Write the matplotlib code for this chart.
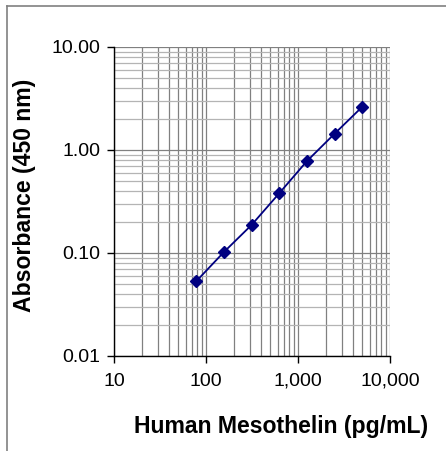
import numpy as np
import matplotlib.pyplot as plt
from matplotlib.lines import Line2D
from matplotlib.ticker import FixedLocator, FixedFormatter, LogLocator, NullFormatter

# Standard curve values
concentration = [78.1, 156.3, 312.5, 625, 1250, 2500, 5000]
absorbance = [0.053, 0.102, 0.187, 0.380, 0.780, 1.44, 2.63]

x_ticks = [10, 100, 1000, 10000]
x_tick_labels = ['10', '100', '1,000', '10,000']
y_ticks = [0.01, 0.1, 1, 10]
y_tick_labels = ['0.01', '0.10', '1.00', '10.00']

plt.rcParams['font.family'] = ['Liberation Sans', 'DejaVu Sans']

W, H = 446, 451
fig = plt.figure(figsize=(W / 100, H / 100), dpi=100)
ax = fig.add_axes([114 / W, 1 - 356 / H, (390 - 114) / W, (356 - 47) / H])

ax.plot(concentration, absorbance, color='#000080', linewidth=1.3,
        marker='D', markersize=6, markerfacecolor='#000080',
        markeredgecolor='#000080', zorder=3)

ax.set_xscale('log')
ax.set_yscale('log')
ax.set_xlim(10, 10000)
ax.set_ylim(0.01, 10)

ax.xaxis.set_major_locator(FixedLocator(x_ticks))
ax.xaxis.set_major_formatter(FixedFormatter(x_tick_labels))
ax.yaxis.set_major_locator(FixedLocator(y_ticks))
ax.yaxis.set_major_formatter(FixedFormatter(y_tick_labels))
ax.xaxis.set_minor_locator(LogLocator(base=10, subs=np.arange(2, 10), numticks=20))
ax.yaxis.set_minor_locator(LogLocator(base=10, subs=np.arange(2, 10), numticks=20))
ax.xaxis.set_minor_formatter(NullFormatter())
ax.yaxis.set_minor_formatter(NullFormatter())

# grid: vertical lines darker, horizontal minor lines lighter
ax.grid(True, axis='x', which='both', color='#808080', linewidth=0.9)
ax.grid(True, axis='y', which='major', color='#808080', linewidth=0.9)
ax.grid(True, axis='y', which='minor', color='#b4b4b4', linewidth=0.9)
ax.set_axisbelow(True)

ax.tick_params(which='major', direction='out', length=5, width=1, color='black',
               labelsize=14, pad=7)
ax.tick_params(which='minor', length=0)
ax.tick_params(axis='y', pad=5)

for side in ['top', 'right']:
    ax.spines[side].set_visible(False)
for side in ['left', 'bottom']:
    ax.spines[side].set_color('black')
    ax.spines[side].set_linewidth(1)

fig.text(281 / W, 1 - 427 / H, 'Human Mesothelin (pg/mL)', ha='center', va='center',
         fontsize=16.6, fontweight='bold')
fig.text(25 / W, 1 - 195 / H, 'Absorbance (450 nm)', ha='center', va='center',
         rotation=90, fontsize=16.6, fontweight='bold')

# outer frame (only left and top edges visible in the picture)
fig.add_artist(Line2D([7 / W, 7 / W], [0, 1 - 6 / H], transform=fig.transFigure,
                      color='#808080', linewidth=1.2))
fig.add_artist(Line2D([7 / W, 1], [1 - 6 / H, 1 - 6 / H], transform=fig.transFigure,
                      color='#808080', linewidth=1.2))

fig.savefig('out.png', dpi=100)
